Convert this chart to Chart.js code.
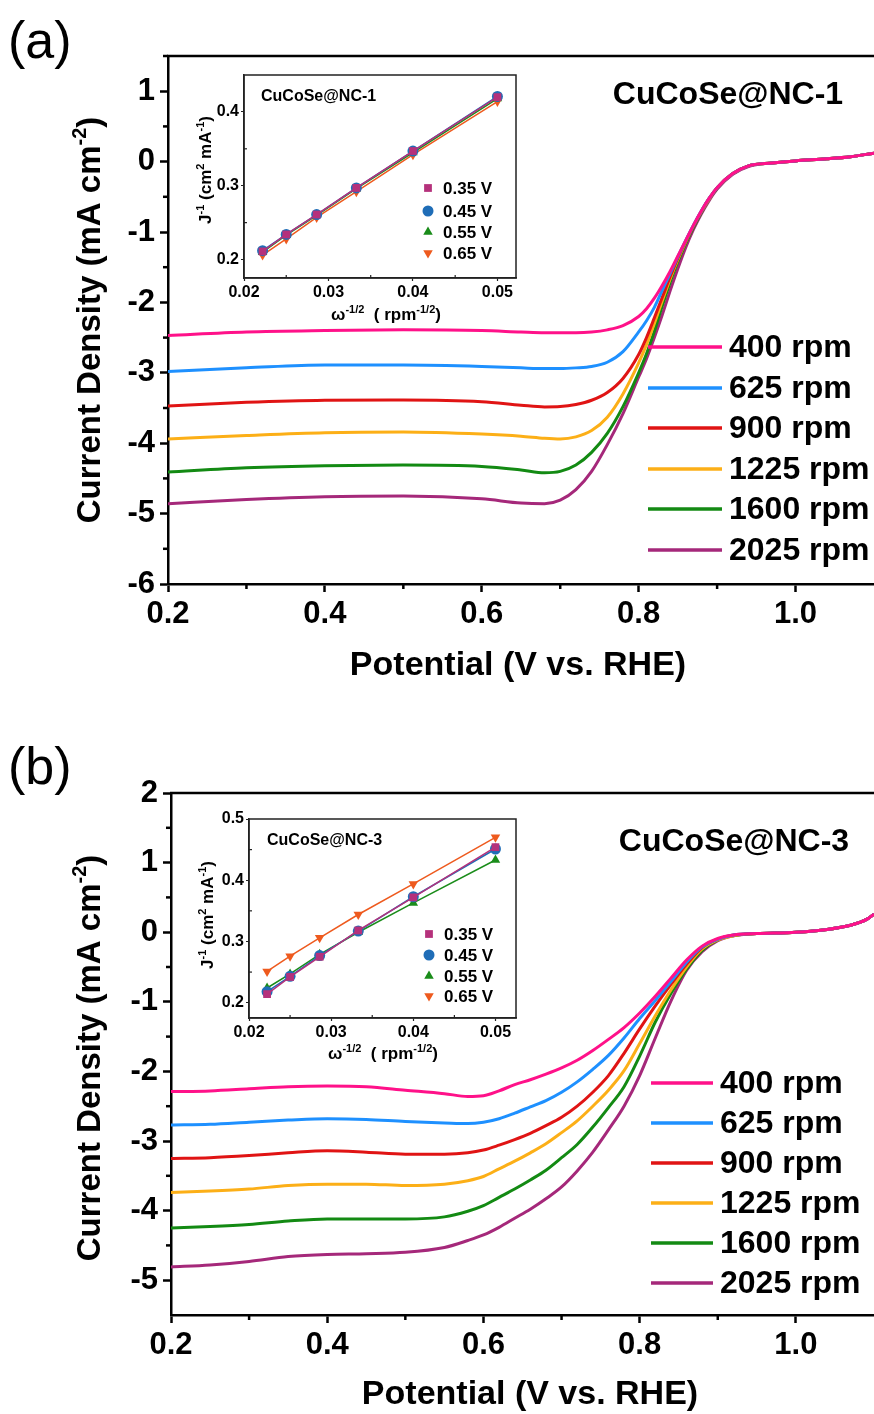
<!DOCTYPE html>
<html><head><meta charset="utf-8">
<script src="https://cdn.jsdelivr.net/npm/chart.js@4.4.0/dist/chart.umd.min.js"></script>
<style>
html,body{margin:0;padding:0;background:#fff;}
#wrap{position:relative;width:874px;height:1414px;background:#fff;overflow:hidden;}
canvas{position:absolute;}
</style></head><body>
<div id="wrap">
<canvas id="ca" width="874" height="700" style="left:0;top:0;"></canvas>
<canvas id="cb" width="874" height="694" style="left:0;top:720px;"></canvas>
<canvas id="ia" width="380" height="280" style="left:160px;top:60px;"></canvas>
<canvas id="ib" width="380" height="280" style="left:160px;top:800px;"></canvas>
</div>
<script>
// ---------- data ----------
const rpmLabels = ['400 rpm','625 rpm','900 rpm','1225 rpm','1600 rpm','2025 rpm'];
const gridA = [0.2,0.3,0.4,0.5,0.6,0.65,0.68,0.70,0.72,0.74,0.76,0.78,0.80,0.81,0.82,0.83,0.84,0.85,0.86,0.87,0.88,0.89,0.90,0.92,0.94,0.97,1.0,1.04,1.07,1.1];
const a400  = [-2.47,-2.42,-2.40,-2.39,-2.40,-2.42,-2.43,-2.43,-2.43,-2.42,-2.39,-2.33,-2.20,-2.09,-1.94,-1.76,-1.56,-1.34,-1.12,-0.90,-0.70,-0.52,-0.37,-0.17,-0.06,-0.02,0.01,0.04,0.07,0.12];
const a625  = [-2.98,-2.93,-2.89,-2.89,-2.91,-2.93,-2.94,-2.94,-2.93,-2.91,-2.85,-2.70,-2.42,-2.26,-2.07,-1.83,-1.59,-1.35,-1.12,-0.90,-0.70,-0.52,-0.37,-0.17,-0.06,-0.02,0.01,0.04,0.07,0.12];
const a900  = [-3.47,-3.42,-3.39,-3.385,-3.41,-3.46,-3.485,-3.48,-3.45,-3.39,-3.28,-3.08,-2.74,-2.50,-2.22,-1.93,-1.64,-1.37,-1.13,-0.91,-0.70,-0.52,-0.37,-0.17,-0.06,-0.02,0.01,0.04,0.07,0.12];
const a1225 = [-3.94,-3.89,-3.85,-3.84,-3.87,-3.90,-3.93,-3.94,-3.91,-3.82,-3.63,-3.30,-2.86,-2.60,-2.30,-1.98,-1.67,-1.39,-1.14,-0.91,-0.71,-0.53,-0.37,-0.17,-0.06,-0.02,0.01,0.04,0.07,0.12];
const a1600 = [-4.41,-4.35,-4.32,-4.31,-4.33,-4.38,-4.42,-4.40,-4.31,-4.13,-3.86,-3.48,-3.00,-2.73,-2.41,-2.05,-1.72,-1.42,-1.16,-0.93,-0.72,-0.53,-0.38,-0.17,-0.06,-0.02,0.01,0.04,0.07,0.12];
const a2025 = [-4.86,-4.80,-4.76,-4.75,-4.79,-4.85,-4.86,-4.81,-4.66,-4.40,-4.02,-3.58,-3.06,-2.80,-2.50,-2.18,-1.84,-1.52,-1.22,-0.96,-0.74,-0.55,-0.39,-0.18,-0.07,-0.02,0.01,0.04,0.07,0.12];

const gridB = [0.2,0.25,0.3,0.35,0.4,0.45,0.5,0.55,0.58,0.6,0.62,0.64,0.66,0.68,0.70,0.72,0.74,0.76,0.78,0.80,0.82,0.84,0.86,0.88,0.90,0.92,0.95,1.0,1.04,1.07,1.09,1.1];
const b400  = [-2.29,-2.28,-2.25,-2.22,-2.21,-2.22,-2.27,-2.32,-2.36,-2.35,-2.28,-2.19,-2.12,-2.04,-1.95,-1.84,-1.70,-1.54,-1.37,-1.16,-0.92,-0.66,-0.40,-0.20,-0.09,-0.04,-0.02,0.0,0.04,0.10,0.18,0.26];
const b625  = [-2.77,-2.76,-2.73,-2.70,-2.68,-2.69,-2.72,-2.74,-2.75,-2.73,-2.68,-2.60,-2.51,-2.42,-2.30,-2.15,-1.97,-1.77,-1.52,-1.24,-0.98,-0.71,-0.43,-0.21,-0.10,-0.04,-0.02,0.0,0.04,0.10,0.18,0.26];
const b900  = [-3.25,-3.24,-3.21,-3.17,-3.14,-3.16,-3.19,-3.19,-3.17,-3.13,-3.06,-2.98,-2.89,-2.78,-2.66,-2.50,-2.30,-2.06,-1.74,-1.39,-1.06,-0.75,-0.46,-0.22,-0.10,-0.04,-0.02,0.0,0.04,0.10,0.18,0.26];
const b1225 = [-3.74,-3.72,-3.69,-3.64,-3.62,-3.62,-3.64,-3.62,-3.57,-3.51,-3.40,-3.29,-3.17,-3.04,-2.88,-2.71,-2.50,-2.27,-1.99,-1.60,-1.20,-0.83,-0.50,-0.24,-0.11,-0.05,-0.02,0.0,0.04,0.10,0.18,0.26];
const b1600 = [-4.25,-4.23,-4.20,-4.15,-4.12,-4.12,-4.12,-4.09,-4.01,-3.93,-3.81,-3.69,-3.56,-3.42,-3.24,-3.05,-2.80,-2.52,-2.22,-1.78,-1.29,-0.88,-0.53,-0.26,-0.11,-0.05,-0.02,0.0,0.04,0.10,0.18,0.26];
const b2025 = [-4.81,-4.78,-4.73,-4.66,-4.63,-4.62,-4.60,-4.53,-4.43,-4.35,-4.24,-4.11,-3.98,-3.83,-3.66,-3.43,-3.16,-2.84,-2.50,-2.06,-1.52,-0.99,-0.55,-0.28,-0.12,-0.05,-0.02,0.0,0.04,0.10,0.18,0.26];

const xTicksMain = [0.2,0.4,0.6,0.8,1.0];
const xMinorMain = [0.3,0.5,0.7,0.9];
const yTicksA = [-6,-5,-4,-3,-2,-1,0,1];
const yMinorA = [-5.5,-4.5,-3.5,-2.5,-1.5,-0.5,0.5,1.5];
const yTicksB = [-5,-4,-3,-2,-1,0,1,2];
const yMinorB = [-4.5,-3.5,-2.5,-1.5,-0.5,0.5,1.5];

const potLabels = ['0.35 V','0.45 V','0.55 V','0.65 V'];
const insetX = [0.0222,0.025,0.0286,0.0333,0.04,0.05];
const iA035 = [0.211,0.234,0.261,0.297,0.347,0.420];
const iA045 = [0.212,0.234,0.261,0.297,0.347,0.421];
const iA055 = [0.210,0.233,0.260,0.296,0.345,0.418];
const iA065 = [0.206,0.228,0.257,0.292,0.342,0.414];
const iB035 = [0.214,0.242,0.275,0.318,0.372,0.454];
const iB045 = [0.218,0.243,0.277,0.317,0.373,0.451];
const iB055 = [0.224,0.247,0.279,0.315,0.363,0.433];
const iB065 = [0.251,0.276,0.306,0.344,0.394,0.470];
const insetXTicks = [0.02,0.03,0.04,0.05];
const insetXMinor = [0.025,0.035,0.045];
const insetYTicksA = [0.2,0.3,0.4];
const insetYMinorA = [0.25,0.35];
const insetYTicksB = [0.2,0.3,0.4,0.5];
const insetYMinorB = [0.25,0.35,0.45];

// ---------- styles ----------
const FONT = "'Liberation Sans', Arial, Helvetica, sans-serif";
const curveColors = ['#ff1189','#1e90ff','#e01414','#fcaf17','#138a13','#a5287a'];
const insetColors = ['#b5317b','#1f6db7','#1a8c1a','#ee5a1e'];
const insetStyles = ['rect','circle','triangle','triangle'];
const insetRot = [0,0,0,180];

function richText(ctx, segs, cx, cy, size, weight, rotate, align) {
  ctx.save();
  ctx.translate(cx, cy);
  if (rotate) ctx.rotate(-Math.PI/2);
  const supSize = Math.round(size*0.62);
  const f = sup => `${weight} ${sup?supSize:size}px ${FONT}`;
  let w = 0;
  for (const [t,sup] of segs) { ctx.font = f(sup); w += ctx.measureText(t).width; }
  let x = align==='left' ? 0 : -w/2;
  ctx.fillStyle = '#000'; ctx.textBaseline = 'alphabetic'; ctx.textAlign = 'left';
  const base = size*0.36;
  for (const [t,sup] of segs) { ctx.font = f(sup); ctx.fillText(t, x, sup ? base - size*0.42 : base); x += ctx.measureText(t).width; }
  ctx.restore();
}

const mainDeco = {
  id:'mainDeco',
  afterDraw(chart, args, o) {
    const {ctx, chartArea:ca} = chart;
    const x = chart.scales.x, y = chart.scales.y;
    ctx.save();
    ctx.strokeStyle = '#000'; ctx.lineWidth = 2.5;
    ctx.beginPath(); ctx.moveTo(ca.left-1, ca.top); ctx.lineTo(ca.right, ca.top); ctx.stroke();
    o.xMinor.forEach(v => { const p = x.getPixelForValue(v); ctx.beginPath(); ctx.moveTo(p, ca.bottom); ctx.lineTo(p, ca.bottom+5); ctx.stroke(); });
    o.yMinor.forEach(v => { const p = y.getPixelForValue(v); ctx.beginPath(); ctx.moveTo(ca.left, p); ctx.lineTo(ca.left-5, p); ctx.stroke(); });
    // legend
    chart.data.datasets.forEach((ds, i) => {
      const ry = o.legRows[i];
      ctx.strokeStyle = ds.borderColor; ctx.lineWidth = 3.5;
      ctx.beginPath(); ctx.moveTo(o.legX0, ry); ctx.lineTo(o.legX1, ry); ctx.stroke();
      ctx.fillStyle = '#000'; ctx.font = `bold 32px ${FONT}`; ctx.textBaseline = 'middle'; ctx.textAlign = 'left';
      ctx.fillText(ds.label, o.legTX, ry+1);
    });
    // sample name
    ctx.fillStyle = '#000'; ctx.font = `bold 32px ${FONT}`; ctx.textAlign = 'center'; ctx.textBaseline = 'middle';
    ctx.fillText(o.sample, o.sampleX, o.sampleY);
    // panel label
    ctx.font = `52px ${FONT}`; ctx.textAlign = 'left';
    ctx.fillText(o.panel, 8, o.panelY);
    ctx.restore();
    // axis titles
    richText(ctx, [['Potential (V vs. RHE)',false]], o.xtX, o.xtY, 34, 'bold', false);
    richText(ctx, [['Current Density (mA cm',false],['-2',true],[')',false]], o.ytX, o.ytY, 33, 'bold', true);
  }
};

function mainChart(id, grid, series, yMin, yMax, yTicks, deco) {
  return new Chart(document.getElementById(id), {
    type:'line',
    data:{datasets: series.map((s,i) => ({
      label: rpmLabels[i],
      data: grid.map((v,k) => ({x:v, y:s[k]})),
      borderColor: curveColors[i], borderWidth: 3, pointRadius: 0,
      cubicInterpolationMode: 'monotone', fill: false
    }))},
    options:{
      responsive:false, animation:false, events:[],
      layout:{padding:{top:deco.top, left:0, right:0, bottom:0}},
      plugins:{legend:{display:false}, tooltip:{enabled:false}, mainDeco:deco},
      scales:{
        x:{type:'linear', min:0.2, max:1.1,
          afterBuildTicks: s => { s.ticks = xTicksMain.map(v => ({value:v})); },
          afterFit: s => { s.height = deco.xh; },
          grid:{drawOnChartArea:false, drawTicks:true, tickLength:8, tickWidth:2.5, tickColor:'#000', color:'#000'},
          border:{display:true, color:'#000', width:2.5},
          ticks:{color:'#000', font:{family:FONT, size:31, weight:'bold'}, padding:4, maxRotation:0, autoSkip:false, callback: v => Number(v).toFixed(1)}},
        y:{type:'linear', min:yMin, max:yMax,
          afterBuildTicks: s => { s.ticks = yTicks.map(v => ({value:v})); },
          afterFit: s => { s.width = deco.yw; },
          grid:{drawOnChartArea:false, drawTicks:true, tickLength:8, tickWidth:2.5, tickColor:'#000', color:'#000'},
          border:{display:true, color:'#000', width:2.5},
          ticks:{color:'#000', font:{family:FONT, size:31, weight:'bold'}, padding:5, autoSkip:false, callback: v => String(v)}}
      }
    },
    plugins:[mainDeco]
  });
}

const insetDeco = {
  id:'insetDeco',
  afterDraw(chart, args, o) {
    const {ctx, chartArea:ca} = chart;
    const x = chart.scales.x, y = chart.scales.y;
    ctx.save();
    ctx.strokeStyle = '#222'; ctx.lineWidth = 1.5;
    ctx.strokeRect(ca.left, ca.top, ca.right-ca.left, ca.bottom-ca.top);
    ctx.lineWidth = 1.2;
    o.xMinor.forEach(v => { const p = x.getPixelForValue(v); ctx.beginPath(); ctx.moveTo(p, ca.bottom); ctx.lineTo(p, ca.bottom-3); ctx.stroke(); });
    o.yMinor.forEach(v => { const p = y.getPixelForValue(v); ctx.beginPath(); ctx.moveTo(ca.left, p); ctx.lineTo(ca.left+3, p); ctx.stroke(); });
    // title
    ctx.fillStyle = '#000'; ctx.font = `bold 16px ${FONT}`; ctx.textAlign = 'left'; ctx.textBaseline = 'middle';
    ctx.fillText(o.title, o.titleX, o.titleY);
    // legend
    chart.data.datasets.forEach((ds, i) => {
      const ry = o.legRows[i];
      ctx.fillStyle = ds.backgroundColor; ctx.strokeStyle = ds.backgroundColor;
      Chart.helpers.drawPoint(ctx, {pointStyle: ds.pointStyle, radius: 5.5, rotation: ds.pointRotation, borderWidth: 0}, o.legMX, ry);
      ctx.fillStyle = '#000'; ctx.font = `bold 17px ${FONT}`; ctx.textAlign = 'left'; ctx.textBaseline = 'middle';
      ctx.fillText(ds.label, o.legTX, ry+1);
    });
    ctx.restore();
    richText(ctx, [['J',false],['-1',true],[' (cm',false],['2',true],[' mA',false],['-1',true],[')',false]], o.ytX, o.ytY, 17, 'bold', true);
    richText(ctx, [['\u03c9',false],['-1/2',true],['  ( rpm',false],['-1/2',true],[')',false]], o.xtX, o.xtY, 17, 'bold', false);
  }
};

function insetChart(id, sets, yMin, yMax, xMax, yTicks, deco) {
  return new Chart(document.getElementById(id), {
    type:'line',
    data:{datasets: sets.map((s,i) => ({
      label: potLabels[i],
      data: insetX.map((v,k) => ({x:v, y:s[k]})),
      showLine:true, borderColor: insetColors[i], backgroundColor: insetColors[i],
      borderWidth: 1.5, pointStyle: insetStyles[i], pointRotation: insetRot[i],
      pointRadius: 5.5, pointBorderWidth: 0, tension: 0, fill:false
    }))},
    options:{
      responsive:false, animation:false, events:[],
      layout:{padding:{top:deco.top, left:0, right:deco.right, bottom:0}},
      plugins:{legend:{display:false}, tooltip:{enabled:false}, insetDeco:deco},
      scales:{
        x:{type:'linear', min:0.02, max:xMax,
          afterBuildTicks: s => { s.ticks = insetXTicks.map(v => ({value:v})); },
          afterFit: s => { s.height = deco.xh; },
          grid:{drawOnChartArea:false, drawTicks:true, tickLength:3, tickWidth:1.2, tickColor:'#222'},
          border:{display:true, color:'#222', width:1.5},
          ticks:{color:'#000', font:{family:FONT, size:16, weight:'bold'}, padding:2, maxRotation:0, autoSkip:false, callback: v => Number(v).toFixed(2)}},
        y:{type:'linear', min:yMin, max:yMax,
          afterBuildTicks: s => { s.ticks = yTicks.map(v => ({value:v})); },
          afterFit: s => { s.width = deco.yw; },
          grid:{drawOnChartArea:false, drawTicks:true, tickLength:3, tickWidth:1.2, tickColor:'#222'},
          border:{display:true, color:'#222', width:1.5},
          ticks:{color:'#000', font:{family:FONT, size:16, weight:'bold'}, padding:2, autoSkip:false, callback: v => Number(v).toFixed(1)}}
      }
    },
    plugins:[insetDeco]
  });
}

mainChart('ca', gridA, [a400,a625,a900,a1225,a1600,a2025], -6, 1.5, yTicksA, {
  top:56, xh:116, yw:168, xMinor:xMinorMain, yMinor:yMinorA,
  legRows:[347,388,428,469,509,550], legX0:648, legX1:722, legTX:729,
  sample:'CuCoSe@NC-1', sampleX:728, sampleY:95, panel:'(a)', panelY:44,
  xtX:518, xtY:663, ytX:88, ytY:320
});
mainChart('cb', gridB, [b400,b625,b900,b1225,b1600,b2025], -5.5, 2, yTicksB, {
  top:73, xh:99, yw:171, xMinor:xMinorMain, yMinor:yMinorB,
  legRows:[363,403,443,483,523,563], legX0:651, legX1:713, legTX:720,
  sample:'CuCoSe@NC-3', sampleX:734, sampleY:122, panel:'(b)', panelY:50,
  xtX:530, xtY:672, ytX:88, ytY:338
});
insetChart('ia', [iA035,iA045,iA055,iA065], 0.175, 0.45, 0.0522, insetYTicksA, {
  top:15, right:24, xh:62, yw:84, xMinor:insetXMinor, yMinor:insetYMinorA,
  title:'CuCoSe@NC-1', titleX:101, titleY:37,
  legRows:[128,151,172,193], legMX:268, legTX:283,
  ytX:45, ytY:110, xtX:226, xtY:254
});
insetChart('ib', [iB035,iB045,iB055,iB065], 0.175, 0.5, 0.0525, insetYTicksB, {
  top:19, right:24, xh:62, yw:89, xMinor:insetXMinor, yMinor:insetYMinorB,
  title:'CuCoSe@NC-3', titleX:107, titleY:41,
  legRows:[134,155,176,196], legMX:269, legTX:284,
  ytX:47, ytY:115, xtX:223, xtY:253
});
</script>
</body></html>
